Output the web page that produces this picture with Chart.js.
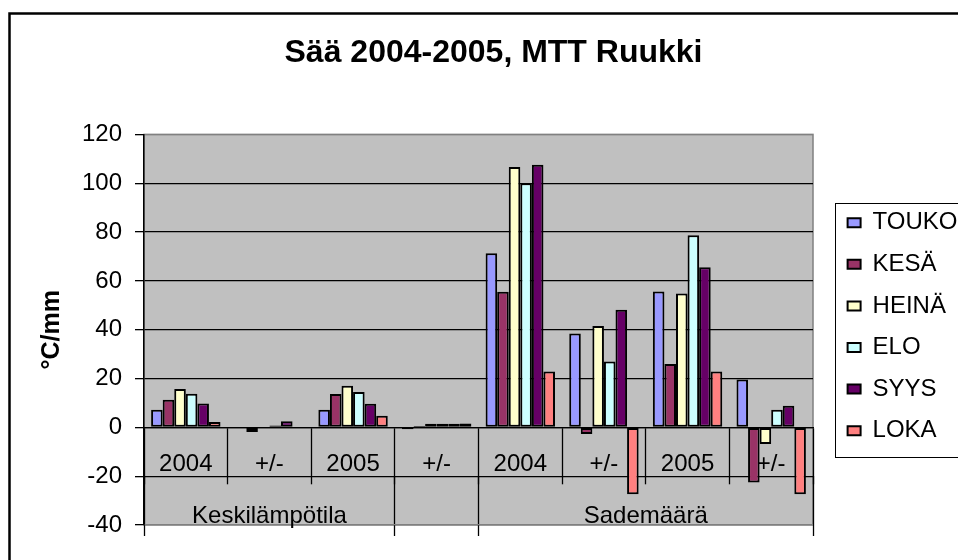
<!DOCTYPE html>
<html>
<head>
<meta charset="utf-8">
<script src="https://cdn.jsdelivr.net/npm/chart.js@4.4.1/dist/chart.umd.min.js"></script>
<style>
  html, body { margin: 0; padding: 0; background: #fff; }
  canvas { display: block; }
</style>
</head>
<body>
<canvas id="grafico" width="958" height="560"></canvas>
<script>
const otsikko = 'Sää 2004-2005, MTT Ruukki';
const yOtsikko = '°C/mm';
const luokat = ['2004', '+/-', '2005', '+/-', '2004', '+/-', '2005', '+/-'];
const ryhmat = ['Keskilämpötila', '', 'Sademäärä'];
const ryhmanKoot = [3, 1, 4];
const yTicks = [-40, -20, 0, 20, 40, 60, 80, 100, 120];

const kuukaudet = ['TOUKO', 'KESÄ', 'HEINÄ', 'ELO', 'SYYS', 'LOKA'];
const varit = ['#9999ff', '#993366', '#ffffcc', '#ccffff', '#660066', '#ff8080'];

const touko = [7.2, 0, 7.2, -0.8, 71.3, 38.4, 55.6, 19.6];
const kesa = [11.3, -1.9, 13.7, 0.6, 55.5, -2.7, 26.0, -22.6];
const heina = [15.7, 0, 17.0, 1.5, 106.6, 41.5, 54.8, -6.8];
const elo = [13.8, 0.8, 14.5, 1.5, 100.0, 27.0, 78.7, 7.2];
const syys = [9.8, 2.5, 9.7, 1.5, 107.6, 48.2, 65.6, 8.8];
const loka = [2.2, 0, 4.8, 1.6, 22.9, -27.4, 22.9, -27.4];
const sarjat = [touko, kesa, heina, elo, syys, loka];

// ryhmien rajat ja keskikohdat toiselle x-akselille
const rajat = [0];
ryhmanKoot.forEach(k => rajat.push(rajat.at(-1) + k));
const keskikohdat = ryhmanKoot.map((k, i) => rajat[i] + k / 2);

const fontti = '"Liberation Sans", Arial, sans-serif';
Chart.defaults.font.family = fontti;
Chart.defaults.color = '#000';

const kehys = {
    id: 'kehys',
    beforeInit(chart) {
        const legend = chart.legend;
        const fit = legend.fit;
        legend.fit = function () {
            fit.call(this);
            this.width = 145;
        };
    },
    afterLayout(chart) {
        const l = chart.legend;
        l.left += 17; l.right += 17;
        l.top -= 3; l.bottom -= 3;
    },
    beforeDraw(chart) {
        const { ctx, chartArea: a } = chart;
        ctx.save();
        ctx.fillStyle = '#c0c0c0';
        ctx.fillRect(a.left, a.top, a.width, a.height);
        ctx.strokeStyle = '#808080';
        ctx.lineWidth = 1.5;
        ctx.strokeRect(a.left, a.top, a.width, a.height);
        ctx.strokeStyle = '#000';
        ctx.lineWidth = 2.5;
        ctx.strokeRect(9.5, 13.5, 1200, 800);
        ctx.restore();
    },
    afterDraw(chart) {
        const l = chart.legend;
        const hb = l.legendHitBoxes;
        if (!hb || !hb.length) return;
        const y0 = hb[0].top + hb[0].height / 2 - 20;
        const y1 = hb.at(-1).top + hb.at(-1).height / 2 + 26;
        const ctx = chart.ctx;
        ctx.save();
        ctx.strokeStyle = '#000';
        ctx.lineWidth = 1;
        ctx.strokeRect(Math.round(l.left + 5) + 0.5, Math.round(y0) + 0.5, 400, Math.round(y1 - y0));
        ctx.restore();
    }
};

new Chart(document.getElementById('grafico'), {
    type: 'bar',
    data: {
        labels: luokat,
        datasets: kuukaudet.map((nimi, i) => ({
            label: nimi,
            data: sarjat[i],
            backgroundColor: varit[i],
            borderColor: '#000',
            borderWidth: 2,
            borderSkipped: false,
            categoryPercentage: 0.83,
            barPercentage: 1.0
        }))
    },
    options: {
        responsive: false,
        animation: false,
        layout: { padding: { left: 29, top: 13, right: 0, bottom: 35 } },
        plugins: {
            title: {
                display: true,
                text: otsikko,
                font: { size: 32, weight: 'bold' },
                color: '#000',
                padding: { top: 21, bottom: 62 }
            },
            legend: {
                position: 'right',
                fullSize: false,
                labels: {
                    boxWidth: 13,
                    boxHeight: 9,
                    padding: 17.6,
                    font: { size: 24 },
                    color: '#000'
                }
            },
            tooltip: { enabled: false }
        },
        scales: {
            x: {
                position: { y: 0 },
                grid: {
                    drawOnChartArea: false,
                    drawTicks: true,
                    tickLength: 56,
                    tickColor: '#000',
                    tickWidth: 1.3,
                    offset: true
                },
                border: { color: '#000', width: 1.3 },
                ticks: {
                    autoSkip: false,
                    maxRotation: 0,
                    padding: -33,
                    font: { size: 24 },
                    color: '#000'
                }
            },
            x2: {
                type: 'linear',
                position: { y: yTicks[1] },
                min: rajat[0],
                max: rajat.at(-1),
                offset: false,
                afterBuildTicks(scale) {
                    scale.ticks = rajat.concat(keskikohdat).sort((a, b) => a - b).map(v => ({ value: v }));
                },
                grid: {
                    offset: false,
                    drawOnChartArea: false,
                    drawTicks: true,
                    tickLength: 60,
                    tickWidth: 1.3,
                    tickColor: c => (c.tick && rajat.includes(c.tick.value)) ? '#000' : 'rgba(0,0,0,0)'
                },
                border: { display: false },
                ticks: {
                    autoSkip: false,
                    maxRotation: 0,
                    padding: -34,
                    font: { size: 24 },
                    color: '#000',
                    callback: v => {
                        const i = keskikohdat.indexOf(v);
                        return i >= 0 ? ryhmat[i] : '';
                    }
                }
            },
            y: {
                min: yTicks[0],
                max: yTicks.at(-1),
                afterFit(scale) { scale.width = 115; },
                ticks: {
                    stepSize: yTicks[1] - yTicks[0],
                    padding: 13,
                    font: { size: 24 },
                    color: '#000'
                },
                grid: {
                    color: c => (c.tick && (c.tick.value === yTicks[0] || c.tick.value === yTicks.at(-1))) ? '#808080' : '#000',
                    tickColor: '#000',
                    tickLength: 9,
                    lineWidth: 1.3
                },
                border: { color: '#000', width: 1.5 },
                title: {
                    display: true,
                    text: yOtsikko,
                    font: { size: 25, weight: 'bold' },
                    color: '#000',
                    padding: { top: 8, bottom: 0 }
                }
            }
        }
    },
    plugins: [kehys]
});
</script>
</body>
</html>
